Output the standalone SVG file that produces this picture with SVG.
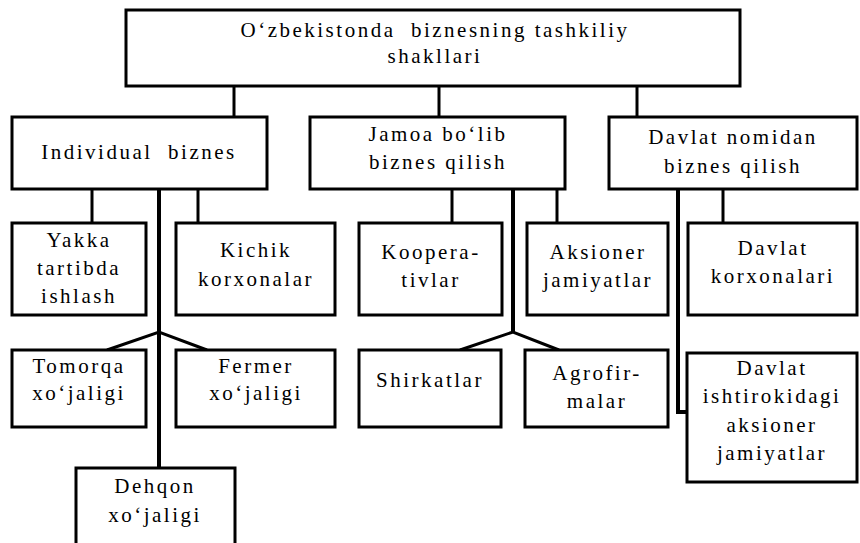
<svg xmlns="http://www.w3.org/2000/svg" width="860" height="543" viewBox="0 0 860 543">
<style>
.b{fill:#fff;stroke:#000;stroke-width:3}
.t{font-family:'Liberation Serif','Times New Roman',serif;font-size:21px;letter-spacing:2.5px;text-anchor:middle;fill:#000;white-space:pre}
.c{stroke:#000;stroke-width:3;fill:none}
.k{stroke:#000;stroke-width:4;fill:none}
</style>
<rect width="860" height="543" fill="#fff"/>
<g id="connectors">
<line class="c" x1="234" y1="86" x2="234" y2="117"/>
<line class="c" x1="439" y1="86" x2="439" y2="117"/>
<line class="c" x1="637" y1="86" x2="637" y2="117"/>
<line class="c" x1="92" y1="189" x2="92" y2="223"/>
<line class="c" x1="198" y1="189" x2="198" y2="223"/>
<line class="k" x1="159" y1="189" x2="159" y2="468"/>
<polyline class="c" points="107,350 159,332 207,350"/>
<line class="c" x1="452" y1="189" x2="452" y2="223"/>
<line class="c" x1="557" y1="189" x2="557" y2="223"/>
<line class="k" x1="513" y1="189" x2="513" y2="332"/>
<polyline class="c" points="460,350 513,332 559,350"/>
<line class="c" x1="723" y1="189" x2="723" y2="223"/>
<polyline class="k" points="678,189 678,412 688,412"/>
</g>
<g id="root"><rect class="b" x="126" y="10" width="614" height="76"/>
<text class="t" xml:space="preserve" x="435" y="37">O‘zbekistonda  biznesning tashkiliy</text>
<text class="t" x="435" y="63">shakllari</text></g>
<g id="individual"><rect class="b" x="12" y="117" width="255" height="72"/>
<text class="t" xml:space="preserve" x="139" y="159">Individual  biznes</text></g>
<g id="jamoa"><rect class="b" x="310" y="117" width="255" height="72"/>
<text class="t" x="438" y="141">Jamoa bo‘lib</text>
<text class="t" x="438" y="169">biznes qilish</text></g>
<g id="davlat"><rect class="b" x="609" y="117" width="248" height="72"/>
<text class="t" x="733" y="144">Davlat nomidan</text>
<text class="t" x="733" y="173">biznes qilish</text></g>
<g id="yakka"><rect class="b" x="12" y="223" width="134" height="92"/>
<text class="t" x="79" y="247">Yakka</text>
<text class="t" x="79" y="275">tartibda</text>
<text class="t" x="79" y="303">ishlash</text></g>
<g id="kichik"><rect class="b" x="176" y="223" width="159" height="92"/>
<text class="t" x="256" y="257">Kichik</text>
<text class="t" x="256" y="286">korxonalar</text></g>
<g id="kooperativlar"><rect class="b" x="359" y="223" width="143" height="92"/>
<text class="t" x="431" y="259">Koopera-</text>
<text class="t" x="431" y="287">tivlar</text></g>
<g id="aksioner"><rect class="b" x="527" y="223" width="141" height="92"/>
<text class="t" x="598" y="259">Aksioner</text>
<text class="t" x="598" y="287">jamiyatlar</text></g>
<g id="davlat-korxonalari"><rect class="b" x="688" y="223" width="169" height="92"/>
<text class="t" x="773" y="255">Davlat</text>
<text class="t" x="773" y="283">korxonalari</text></g>
<g id="tomorqa"><rect class="b" x="12" y="350" width="134" height="77"/>
<text class="t" x="79" y="373">Tomorqa</text>
<text class="t" x="79" y="400">xo‘jaligi</text></g>
<g id="fermer"><rect class="b" x="176" y="350" width="159" height="77"/>
<text class="t" x="256" y="373">Fermer</text>
<text class="t" x="256" y="400">xo‘jaligi</text></g>
<g id="shirkatlar"><rect class="b" x="359" y="350" width="142" height="77"/>
<text class="t" x="430" y="387">Shirkatlar</text></g>
<g id="agrofirmalar"><rect class="b" x="525" y="350" width="143" height="77"/>
<text class="t" x="597" y="380">Agrofir-</text>
<text class="t" x="597" y="408">malar</text></g>
<g id="davlat-ishtirokidagi"><rect class="b" x="687" y="353" width="170" height="129"/>
<text class="t" x="772" y="375">Davlat</text>
<text class="t" x="772" y="403">ishtirokidagi</text>
<text class="t" x="772" y="432">aksioner</text>
<text class="t" x="772" y="460">jamiyatlar</text></g>
<g id="dehqon"><rect class="b" x="76" y="468" width="159" height="80"/>
<text class="t" x="155" y="493">Dehqon</text>
<text class="t" x="155" y="522">xo‘jaligi</text></g>
</svg>
